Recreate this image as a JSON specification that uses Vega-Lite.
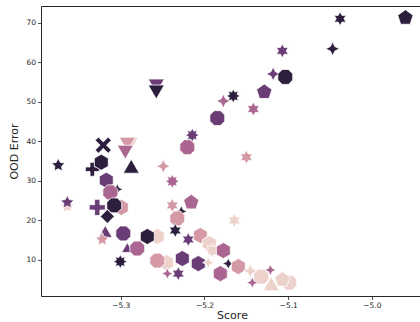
{
  "$schema": "https://vega.github.io/schema/vega-lite/v6.json",
  "width": 382,
  "height": 290,
  "autosize": {"type": "none"},
  "padding": {"left": 41, "top": 6, "right": 0, "bottom": 26},
  "background": "white",
  "config": {
    "view": {"stroke": "#262626", "strokeWidth": 1},
    "axis": {
      "domain": false, "grid": false, "tickColor": "#262626", "tickSize": 3.5, "tickWidth": 0.8,
      "labelFontSize": 7.5, "labelColor": "#262626", "labelFont": "DejaVu Sans",
      "titleFont": "DejaVu Sans", "titleFontSize": 11, "titleFontWeight": "normal", "titleColor": "#262626"
    }
  },
  "data": {"values": [
    {"score":-4.960,"ood":71.24,"grp":4,"arch":"H","sz":3},
    {"score":-5.038,"ood":70.99,"grp":4,"arch":"K","sz":2},
    {"score":-5.047,"ood":63.38,"grp":4,"arch":"E","sz":2},
    {"score":-5.107,"ood":62.87,"grp":3,"arch":"K","sz":2},
    {"score":-5.118,"ood":57.03,"grp":3,"arch":"E","sz":2},
    {"score":-5.1035,"ood":56.27,"grp":4,"arch":"A","sz":3},
    {"score":-5.1656,"ood":51.45,"grp":4,"arch":"L","sz":2},
    {"score":-5.1286,"ood":52.46,"grp":3,"arch":"H","sz":3},
    {"score":-5.1775,"ood":50.18,"grp":2,"arch":"E","sz":2},
    {"score":-5.1417,"ood":48.15,"grp":2,"arch":"K","sz":2},
    {"score":-5.1847,"ood":45.86,"grp":3,"arch":"A","sz":3},
    {"score":-5.2146,"ood":41.55,"grp":3,"arch":"L","sz":2},
    {"score":-5.2205,"ood":38.50,"grp":2,"arch":"A","sz":3},
    {"score":-5.150,"ood":35.96,"grp":1,"arch":"K","sz":2},
    {"score":-5.2492,"ood":33.68,"grp":1,"arch":"E","sz":2},
    {"score":-5.1644,"ood":19.97,"grp":0,"arch":"K","sz":2},
    {"score":-5.2576,"ood":53.98,"grp":3,"arch":"G","sz":3},
    {"score":-5.2576,"ood":52.46,"grp":4,"arch":"G","sz":3},
    {"score":-5.3747,"ood":33.93,"grp":4,"arch":"I","sz":2},
    {"score":-5.3639,"ood":23.53,"grp":0,"arch":"I","sz":2},
    {"score":-5.3639,"ood":24.54,"grp":3,"arch":"I","sz":2},
    {"score":-5.3209,"ood":39.01,"grp":4,"arch":"B","sz":3},
    {"score":-5.334,"ood":32.92,"grp":4,"arch":"D","sz":2},
    {"score":-5.3233,"ood":34.70,"grp":4,"arch":"J","sz":3},
    {"score":-5.3173,"ood":30.13,"grp":3,"arch":"J","sz":3},
    {"score":-5.3042,"ood":27.84,"grp":4,"arch":"E","sz":1},
    {"score":-5.3125,"ood":27.08,"grp":2,"arch":"A","sz":3},
    {"score":-5.2994,"ood":23.27,"grp":1,"arch":"J","sz":3},
    {"score":-5.3078,"ood":23.78,"grp":4,"arch":"A","sz":3},
    {"score":-5.3281,"ood":23.27,"grp":3,"arch":"D","sz":3},
    {"score":-5.3161,"ood":20.99,"grp":4,"arch":"C","sz":2},
    {"score":-5.3185,"ood":17.18,"grp":3,"arch":"F","sz":2},
    {"score":-5.3221,"ood":15.15,"grp":1,"arch":"I","sz":2},
    {"score":-5.297,"ood":16.68,"grp":3,"arch":"A","sz":3},
    {"score":-5.2887,"ood":39.26,"grp":0,"arch":"G","sz":3},
    {"score":-5.2922,"ood":39.26,"grp":1,"arch":"G","sz":3},
    {"score":-5.2946,"ood":37.23,"grp":2,"arch":"G","sz":3},
    {"score":-5.2875,"ood":33.68,"grp":4,"arch":"F","sz":3},
    {"score":-5.2922,"ood":13.12,"grp":3,"arch":"F","sz":1},
    {"score":-5.2803,"ood":12.87,"grp":2,"arch":"A","sz":3},
    {"score":-5.3006,"ood":9.57,"grp":4,"arch":"L","sz":2},
    {"score":-5.2564,"ood":15.91,"grp":0,"arch":"J","sz":3},
    {"score":-5.2683,"ood":15.91,"grp":4,"arch":"J","sz":3},
    {"score":-5.2385,"ood":29.87,"grp":2,"arch":"L","sz":2},
    {"score":-5.2158,"ood":24.54,"grp":2,"arch":"H","sz":3},
    {"score":-5.2385,"ood":23.78,"grp":1,"arch":"K","sz":2},
    {"score":-5.2277,"ood":22.26,"grp":4,"arch":"E","sz":1},
    {"score":-5.2325,"ood":20.48,"grp":1,"arch":"A","sz":3},
    {"score":-5.205,"ood":16.17,"grp":1,"arch":"J","sz":3},
    {"score":-5.2349,"ood":17.44,"grp":4,"arch":"K","sz":2},
    {"score":-5.2194,"ood":15.15,"grp":3,"arch":"K","sz":2},
    {"score":-5.1943,"ood":14.14,"grp":0,"arch":"J","sz":3},
    {"score":-5.2456,"ood":9.31,"grp":0,"arch":"J","sz":3},
    {"score":-5.2564,"ood":9.82,"grp":1,"arch":"A","sz":3},
    {"score":-5.2444,"ood":6.52,"grp":2,"arch":"E","sz":1},
    {"score":-5.2265,"ood":10.33,"grp":3,"arch":"J","sz":3},
    {"score":-5.2074,"ood":9.06,"grp":3,"arch":"J","sz":3},
    {"score":-5.2313,"ood":6.52,"grp":3,"arch":"K","sz":2},
    {"score":-5.1907,"ood":12.36,"grp":0,"arch":"L","sz":2},
    {"score":-5.1775,"ood":12.36,"grp":2,"arch":"J","sz":3},
    {"score":-5.1955,"ood":9.31,"grp":0,"arch":"E","sz":1},
    {"score":-5.1811,"ood":6.52,"grp":2,"arch":"J","sz":3},
    {"score":-5.1716,"ood":9.06,"grp":4,"arch":"E","sz":1},
    {"score":-5.1596,"ood":8.30,"grp":1,"arch":"J","sz":3},
    {"score":-5.1453,"ood":7.2,"grp":0,"arch":"E","sz":2},
    {"score":-5.1321,"ood":5.76,"grp":0,"arch":"A","sz":3},
    {"score":-5.1213,"ood":7.44,"grp":2,"arch":"E","sz":1},
    {"score":-5.1429,"ood":4.24,"grp":2,"arch":"E","sz":1},
    {"score":-5.1202,"ood":3.98,"grp":0,"arch":"F","sz":3},
    {"score":-5.0987,"ood":4.24,"grp":0,"arch":"A","sz":3},
    {"score":-5.107,"ood":5.0,"grp":0,"arch":"H","sz":3}
  ]},
  "mark": {"type": "point", "filled": true, "opacity": 1, "stroke": "white", "strokeWidth": 0.8},
  "encoding": {
    "x": {"field": "score", "type": "quantitative", "title": "Score",
      "scale": {"domain": [-5.3953, -4.939], "nice": false, "zero": false},
      "axis": {"values": [-5.3, -5.2, -5.1, -5.0], "format": ".1f", "titlePadding": 0}},
    "y": {"field": "ood", "type": "quantitative", "title": "OOD Error",
      "scale": {"domain": [0.86, 74.21], "nice": false, "zero": false},
      "axis": {"values": [10, 20, 30, 40, 50, 60, 70], "titlePadding": 6}},
    "color": {"field": "grp", "type": "ordinal", "legend": null,
      "scale": {"domain": [0, 1, 2, 3, 4], "range": ["#edd1cb", "#d499a4", "#aa6690", "#6b3d76", "#2d1e3e"]}},
    "shape": {"field": "arch", "type": "nominal", "legend": null,
      "scale": {"domain": ["A","B","C","D","E","F","G","H","I","J","K","L"],
        "range": [
          "M0.383,-0.924L0.924,-0.383L0.924,0.383L0.383,0.924L-0.383,0.924L-0.924,0.383L-0.924,-0.383L-0.383,-0.924Z",
          "M-1,-0.6L-0.6,-1L0,-0.4L0.6,-1L1,-0.6L0.4,0L1,0.6L0.6,1L0,0.4L-0.6,1L-1,0.6L-0.4,0Z",
          "diamond",
          "M-0.33,-1L0.33,-1L0.33,-0.33L1,-0.33L1,0.33L0.33,0.33L0.33,1L-0.33,1L-0.33,0.33L-1,0.33L-1,-0.33L-0.33,-0.33Z",
          "M0,-1L0.318,-0.318L1,0L0.318,0.318L0,1L-0.318,0.318L-1,0L-0.318,-0.318Z",
          "triangle-up",
          "triangle-down",
          "M0,-1L0.951,-0.309L0.588,0.809L-0.588,0.809L-0.951,-0.309Z",
          "M0,-1L0.294,-0.405L0.951,-0.309L0.476,0.155L0.588,0.809L0,0.5L-0.588,0.809L-0.476,0.155L-0.951,-0.309L-0.294,-0.405Z",
          "M0,-1L0.866,-0.5L0.866,0.5L0,1L-0.866,0.5L-0.866,-0.5Z",
          "M0,-1L0.275,-0.476L0.866,-0.5L0.55,0L0.866,0.5L0.275,0.476L0,1L-0.275,0.476L-0.866,0.5L-0.55,0L-0.866,-0.5L-0.275,-0.476Z",
          "M0,-1L0.23,-0.554L0.707,-0.707L0.554,-0.23L1,0L0.554,0.23L0.707,0.707L0.23,0.554L0,1L-0.23,0.554L-0.707,0.707L-0.554,0.23L-1,0L-0.554,-0.23L-0.707,-0.707L-0.23,-0.554Z"
        ]}},
    "size": {"field": "sz", "type": "ordinal", "legend": null,
      "scale": {"domain": [1, 2, 3], "range": [130, 260, 420]}}
  }
}
